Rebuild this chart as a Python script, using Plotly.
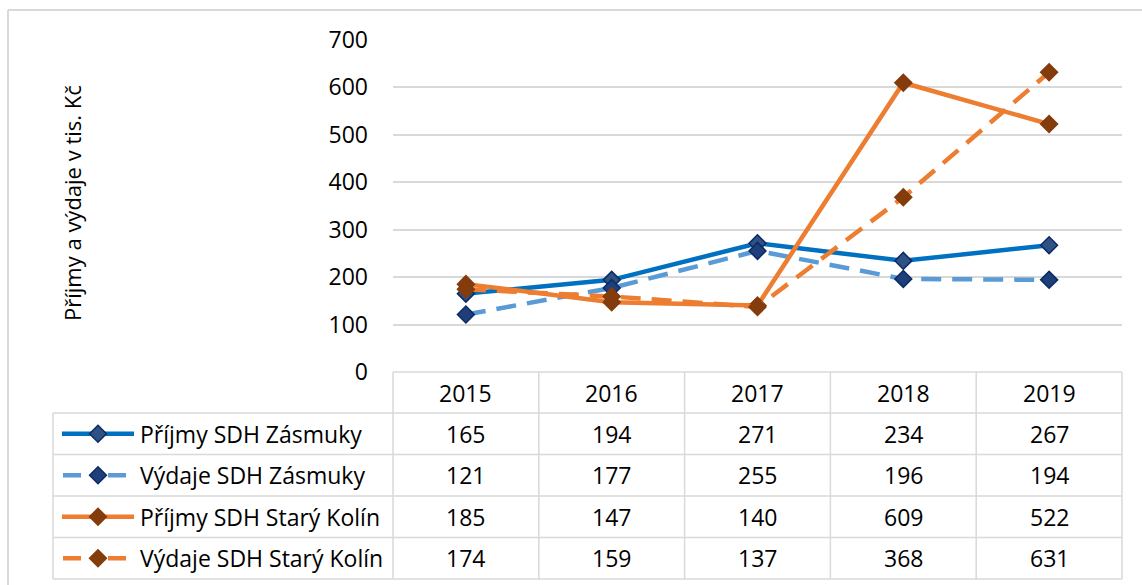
import plotly.graph_objects as go

years = [2015, 2016, 2017, 2018, 2019]
series_names = ["Příjmy SDH Zásmuky", "Výdaje SDH Zásmuky",
                "Příjmy SDH Starý Kolín", "Výdaje SDH Starý Kolín"]
prijmy_zasmuky = [165, 194, 271, 234, 267]
vydaje_zasmuky = [121, 177, 255, 196, 194]
prijmy_kolin = [185, 147, 140, 609, 522]
vydaje_kolin = [174, 159, 137, 368, 631]
y_ticks = [0, 100, 200, 300, 400, 500, 600, 700]
y_title = "Příjmy a výdaje v tis. Kč"

W, H = 1142, 585
FONT = "Open Sans"
GRID = "#D9D9D9"

# layout geometry (pixels)
PX0, PX1 = 393, 1122          # plot area x
PY_TOP, PY_BOT = 39.5, 372    # y of 700 and 0
TAB_LEFT = 53
ROW_Y = [372, 413, 454.5, 496, 537.5, 579]

styles = [
    dict(color="#0070C0", dash="solid", mfill="#2E5283", mline="#0B2A66"),
    dict(color="#5B9BD5", dash="20px,11px", mfill="#1F3F7A", mline="#0B2A66"),
    dict(color="#ED7D31", dash="solid", mfill="#843C0C", mline="#843C0C"),
    dict(color="#ED7D31", dash="20px,11px", mfill="#843C0C", mline="#843C0C"),
]
data = [prijmy_zasmuky, vydaje_zasmuky, prijmy_kolin, vydaje_kolin]

fig = go.Figure()

for name, vals, st in zip(series_names, data, styles):
    fig.add_trace(go.Scatter(
        x=years, y=vals, name=name, mode="lines+markers",
        line=dict(color=st["color"], width=4.5, dash=st["dash"]),
        marker=dict(symbol="diamond", size=13, color=st["mfill"],
                    line=dict(color=st["mline"], width=1.5)),
        showlegend=False, xaxis="x", yaxis="y", cliponaxis=False,
    ))

shapes = []
annotations = []

def hline(x0, x1, y, color=GRID, width=1.5):
    shapes.append(dict(type="line", xref="x2", yref="y2", x0=x0, x1=x1, y0=y, y1=y,
                       line=dict(color=color, width=width), layer="below"))

def vline(x, y0, y1, color=GRID, width=1.5):
    shapes.append(dict(type="line", xref="x2", yref="y2", x0=x, x1=x, y0=y0, y1=y1,
                       line=dict(color=color, width=width), layer="below"))

# outer chart frame
hline(8, W, 10, width=2)
vline(8, 10, H, width=2)

# data table
band = (PX1 - PX0) / len(years)
hline(PX0, PX1, ROW_Y[0])
for y in ROW_Y[1:]:
    hline(TAB_LEFT, PX1, y)
for i in range(len(years) + 1):
    vline(PX0 + i * band, ROW_Y[0], ROW_Y[-1])
vline(TAB_LEFT, ROW_Y[1], ROW_Y[-1])

txt_font = dict(family=FONT, size=23, color="#000000")
for i, yr in enumerate(years):
    cx = PX0 + (i + 0.5) * band
    annotations.append(dict(xref="x2", yref="y2", x=cx, y=(ROW_Y[0] + ROW_Y[1]) / 2,
                            text=str(yr), showarrow=False, font=txt_font,
                            xanchor="center", yanchor="middle"))
    for r, vals in enumerate(data):
        cy = (ROW_Y[r + 1] + ROW_Y[r + 2]) / 2
        annotations.append(dict(xref="x2", yref="y2", x=cx, y=cy,
                                text=str(vals[i]), showarrow=False, font=txt_font,
                                xanchor="center", yanchor="middle"))

# legend keys in the table
for r, (name, st) in enumerate(zip(series_names, styles)):
    cy = (ROW_Y[r + 1] + ROW_Y[r + 2]) / 2
    if st["dash"] == "solid":
        kx = [62, 134]
        ky = [cy, cy]
    else:
        kx = [63, 81, None, 108, 126]
        ky = [cy, cy, None, cy, cy]
    fig.add_trace(go.Scatter(x=kx, y=ky, mode="lines", xaxis="x2", yaxis="y2",
                             line=dict(color=st["color"], width=4.5),
                             showlegend=False, hoverinfo="skip"))
    fig.add_trace(go.Scatter(x=[98], y=[cy], mode="markers", xaxis="x2", yaxis="y2",
                             marker=dict(symbol="diamond", size=13, color=st["mfill"],
                                         line=dict(color=st["mline"], width=1.5)),
                             showlegend=False, hoverinfo="skip"))
    annotations.append(dict(xref="x2", yref="y2", x=138, y=cy, text=name,
                            showarrow=False, font=txt_font,
                            xanchor="left", yanchor="middle"))

# y axis title
annotations.append(dict(xref="x2", yref="y2", x=72, y=203, text=y_title,
                        showarrow=False, textangle=-90,
                        font=dict(family=FONT, size=22, color="#000000"),
                        xanchor="center", yanchor="middle"))

fig.update_layout(
    width=W, height=H, autosize=False,
    margin=dict(l=0, r=0, t=0, b=0, pad=0),
    paper_bgcolor="white", plot_bgcolor="rgba(0,0,0,0)",
    showlegend=False,
    font=dict(family=FONT, color="#000000"),
    xaxis=dict(domain=[PX0 / W, PX1 / W], range=[years[0] - 0.5, years[-1] + 0.5],
               showgrid=False, zeroline=False, showline=False, showticklabels=False,
               ticks="", automargin=False, anchor="y"),
    yaxis=dict(domain=[1 - PY_BOT / H, 1 - PY_TOP / H], range=[0, 700],
               tickvals=y_ticks, showgrid=True, gridcolor=GRID, gridwidth=1.5,
               zeroline=False, showline=False, ticks="", automargin=False,
               tickfont=dict(family=FONT, size=23, color="#000000"),
               ticklabelstandoff=24, anchor="x"),
    xaxis2=dict(domain=[0, 1], range=[0, W], visible=False, automargin=False,
                anchor="y2", fixedrange=True),
    yaxis2=dict(domain=[0, 1], range=[H, 0], visible=False, automargin=False,
                anchor="x2", fixedrange=True),
    shapes=shapes,
    annotations=annotations,
)

fig.write_html("out.html",
               config={"displayModeBar": False},
               post_script="document.body.style.margin='0';"
                           "document.body.style.overflow='hidden';")
